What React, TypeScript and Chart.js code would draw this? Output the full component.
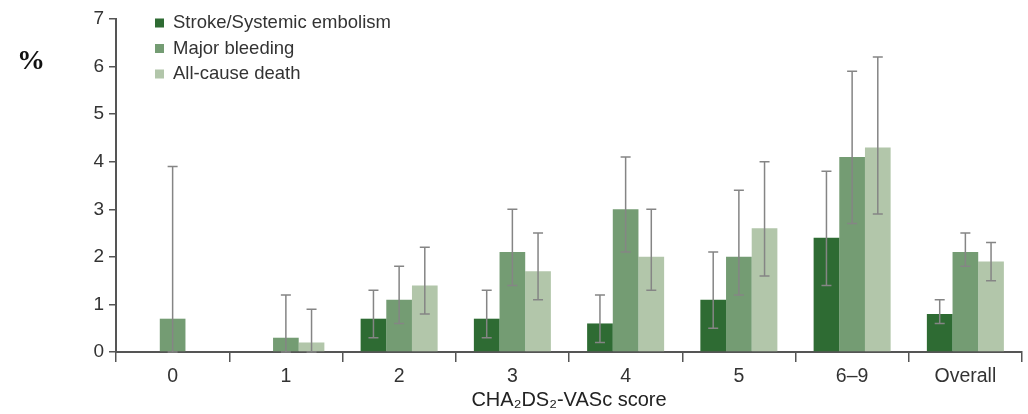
import React, { useEffect, useRef } from "react";
import { Chart, registerables } from "chart.js";

Chart.register(...registerables);

const categories = ["0", "1", "2", "3", "4", "5", "6–9", "Overall"];
const seriesNames = ["Stroke/Systemic embolism", "Major bleeding", "All-cause death"];
const seriesColors = ["#2e6b33", "#749c73", "#b2c6aa"];

const strokeValues = [null, null, 0.7, 0.7, 0.6, 1.1, 2.4, 0.8];
const strokeLow = [null, null, 0.3, 0.3, 0.2, 0.5, 1.4, 0.6];
const strokeHigh = [null, null, 1.3, 1.3, 1.2, 2.1, 3.8, 1.1];

const bleedingValues = [0.7, 0.3, 1.1, 2.1, 3.0, 2.0, 4.1, 2.1];
const bleedingLow = [0, 0, 0.6, 1.4, 2.1, 1.2, 2.7, 1.8];
const bleedingHigh = [3.9, 1.2, 1.8, 3.0, 4.1, 3.4, 5.9, 2.5];

const deathValues = [null, 0.2, 1.4, 1.7, 2.0, 2.6, 4.3, 1.9];
const deathLow = [null, 0, 0.8, 1.1, 1.3, 1.6, 2.9, 1.5];
const deathHigh = [null, 0.9, 2.2, 2.5, 3.0, 4.0, 6.2, 2.3];

const yTicks = [0, 1, 2, 3, 4, 5, 6, 7];
const xTitle = "CHA₂DS₂-VASc score";
const yUnit = "%";

const FONT = "'Liberation Sans', Arial, Helvetica, sans-serif";

const errorBarPlugin = {
  id: "errorBars",
  afterDatasetsDraw(chart: any) {
    const ctx = chart.ctx;
    const y = chart.scales.y;
    chart.data.datasets.forEach((ds: any, di: number) => {
      const meta = chart.getDatasetMeta(di);
      meta.data.forEach((bar: any, i: number) => {
        const lo = ds.errLow[i];
        const hi = ds.errHigh[i];
        if (lo == null || hi == null || ds.data[i] == null) return;
        const x = bar.x;
        const yl = y.getPixelForValue(lo);
        const yh = y.getPixelForValue(hi);
        ctx.save();
        ctx.strokeStyle = "#858585";
        ctx.lineWidth = 1.5;
        ctx.beginPath();
        ctx.moveTo(x, yl);
        ctx.lineTo(x, yh);
        ctx.moveTo(x - 5, yh);
        ctx.lineTo(x + 5, yh);
        ctx.moveTo(x - 5, yl);
        ctx.lineTo(x + 5, yl);
        ctx.stroke();
        ctx.restore();
      });
    });
  },
};

const decorPlugin = {
  id: "decor",
  afterDraw(chart: any) {
    const ctx = chart.ctx;
    const area = chart.chartArea;
    ctx.save();
    // legend
    const lx = area.left + 39;
    const ly0 = area.top + 4;
    ctx.font = `18.5px ${FONT}`;
    ctx.textBaseline = "middle";
    ctx.textAlign = "left";
    seriesNames.forEach((name, i) => {
      const cy = ly0 + i * 25.5;
      ctx.fillStyle = seriesColors[i];
      ctx.fillRect(lx, cy - 4.5, 9, 9);
      ctx.fillStyle = "#333";
      ctx.fillText(name, lx + 18, cy);
    });
    // unit label
    ctx.font = `bold 28px 'Liberation Serif', 'Times New Roman', serif`;
    ctx.fillStyle = "#111";
    ctx.textAlign = "center";
    ctx.fillText(yUnit, 31, chart.scales.y.getPixelForValue(6.1));
    ctx.restore();
  },
};

export default function App() {
  const ref = useRef<HTMLCanvasElement | null>(null);

  useEffect(() => {
    document.body.style.margin = "0";
    const canvas = ref.current;
    if (!canvas) return;
    const chart = new Chart(canvas, {
      type: "bar",
      data: {
        labels: categories,
        datasets: [
          { label: seriesNames[0], data: strokeValues, backgroundColor: seriesColors[0], errLow: strokeLow, errHigh: strokeHigh } as any,
          { label: seriesNames[1], data: bleedingValues, backgroundColor: seriesColors[1], errLow: bleedingLow, errHigh: bleedingHigh } as any,
          { label: seriesNames[2], data: deathValues, backgroundColor: seriesColors[2], errLow: deathLow, errHigh: deathHigh } as any,
        ],
      },
      options: {
        responsive: false,
        animation: false,
        devicePixelRatio: 1,
        layout: { padding: { top: 19, right: 6, left: 0, bottom: 0 } },
        datasets: { bar: { categoryPercentage: 0.68, barPercentage: 1.0 } },
        plugins: {
          legend: { display: false },
          tooltip: { enabled: false },
          title: { display: false },
        },
        scales: {
          x: {
            grid: {
              display: true,
              drawOnChartArea: false,
              drawTicks: true,
              tickLength: 10,
              color: "#555",
              lineWidth: 1.5,
              offset: true,
            },
            border: { display: true, color: "#555", width: 2 },
            ticks: {
              color: "#333",
              font: { family: FONT, size: 19.5 },
              padding: 3,
              maxRotation: 0,
            },
            title: {
              display: true,
              text: xTitle,
              color: "#222",
              font: { family: FONT, size: 20 },
              padding: { top: 0, bottom: 2 },
            },
            afterFit(scale: any) {
              scale.height = 62;
            },
          },
          y: {
            min: 0,
            max: 7,
            afterBuildTicks(scale: any) {
              scale.ticks = yTicks.map((v) => ({ value: v }));
            },
            grid: {
              display: true,
              drawOnChartArea: false,
              drawTicks: true,
              tickLength: 7,
              color: "#555",
              lineWidth: 1.5,
            },
            border: { display: true, color: "#555", width: 2 },
            ticks: {
              color: "#333",
              font: { family: FONT, size: 19 },
              padding: 5,
            },
            afterFit(scale: any) {
              scale.width = 116;
            },
          },
        },
      },
      plugins: [errorBarPlugin, decorPlugin],
    } as any);
    return () => chart.destroy();
  }, []);

  return (
    <div style={{ width: 1028, height: 414 }}>
      <canvas ref={ref} width={1028} height={414} style={{ display: "block" }} />
    </div>
  );
}
